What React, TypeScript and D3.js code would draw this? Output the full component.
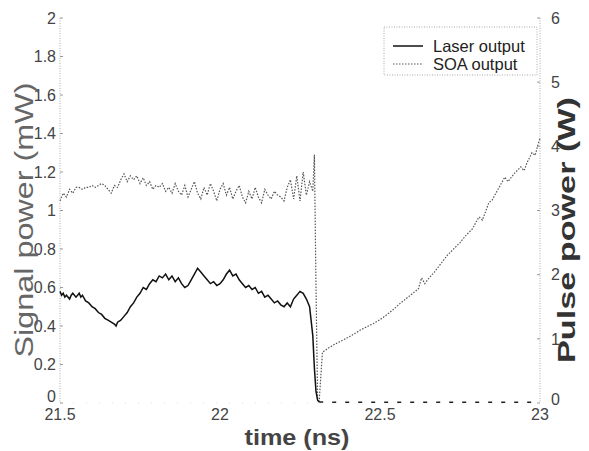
import React from "react";
import * as d3 from "d3";

const xTicks = [21.5, 22, 22.5, 23];
const xTickLabels = ["21.5", "22", "22.5", "23"];
const yLeftTicks = [0, 0.2, 0.4, 0.6, 0.8, 1, 1.2, 1.4, 1.6, 1.8, 2];
const yLeftTickLabels = ["0", "0.2", "0.4", "0.6", "0.8", "1", "1.2", "1.4", "1.6", "1.8", "2"];
const yRightTicks = [0, 1, 2, 3, 4, 5, 6];
const yRightTickLabels = ["0", "1", "2", "3", "4", "5", "6"];

// Laser output (left axis, mW)
const laserTime = [
  21.5, 21.505, 21.51, 21.515, 21.52, 21.53, 21.535, 21.54, 21.55, 21.56, 21.565, 21.57, 21.58, 21.59, 21.6, 21.61,
  21.62, 21.63, 21.64, 21.65, 21.66, 21.67, 21.675, 21.68, 21.69, 21.7, 21.71, 21.72, 21.73, 21.74, 21.75,
  21.76, 21.77, 21.78, 21.79, 21.8, 21.81, 21.82, 21.83, 21.84, 21.85, 21.86, 21.87, 21.88, 21.89, 21.9,
  21.91, 21.92, 21.93, 21.94, 21.95, 21.96, 21.97, 21.98, 21.99, 22.0, 22.01, 22.02, 22.03, 22.04, 22.05,
  22.06, 22.07, 22.08, 22.09, 22.1, 22.11, 22.12, 22.13, 22.14, 22.15, 22.16, 22.17, 22.18, 22.19, 22.2,
  22.21, 22.22, 22.23, 22.24, 22.25, 22.26, 22.27, 22.28, 22.29, 22.295, 22.3, 22.305, 22.31, 22.35, 22.4,
  22.5, 22.6, 22.7, 22.8, 22.9, 23.0,
];
const laserValue = [
  0.58, 0.56, 0.57, 0.55, 0.56, 0.54, 0.56, 0.57, 0.55, 0.57, 0.55, 0.56, 0.53, 0.52, 0.5, 0.49,
  0.47, 0.46, 0.44, 0.43, 0.42, 0.41, 0.4, 0.42, 0.43, 0.45, 0.47, 0.5, 0.52, 0.55, 0.57,
  0.6, 0.59, 0.62, 0.64, 0.63, 0.66, 0.65, 0.67, 0.64, 0.66, 0.63, 0.65, 0.62, 0.6, 0.61,
  0.64, 0.67, 0.7, 0.68, 0.66, 0.64, 0.62, 0.63, 0.61, 0.62, 0.64, 0.67, 0.69, 0.66, 0.67,
  0.64, 0.62, 0.6, 0.61, 0.59, 0.6, 0.57, 0.58, 0.55, 0.56, 0.54, 0.52, 0.53, 0.51, 0.5,
  0.52, 0.5, 0.54, 0.56, 0.58, 0.57, 0.54, 0.5, 0.35, 0.18, 0.06, 0.015, 0.005, 0.004, 0.004,
  0.004, 0.004, 0.004, 0.004, 0.004, 0.004,
];

// SOA output (right axis, W)
const soaTime = [
  21.5, 21.51, 21.52, 21.53, 21.54, 21.55, 21.56, 21.57, 21.58, 21.59, 21.6, 21.61, 21.62, 21.63, 21.64,
  21.65, 21.66, 21.67, 21.68, 21.69, 21.7, 21.71, 21.72, 21.73, 21.74, 21.75, 21.76, 21.77, 21.78, 21.79,
  21.8, 21.81, 21.82, 21.83, 21.84, 21.85, 21.86, 21.87, 21.88, 21.89, 21.9, 21.91, 21.92, 21.93, 21.94,
  21.95, 21.96, 21.97, 21.98, 21.99, 22.0, 22.01, 22.02, 22.03, 22.04, 22.05, 22.06, 22.07, 22.08, 22.09,
  22.1, 22.11, 22.12, 22.13, 22.14, 22.15, 22.16, 22.17, 22.18, 22.19, 22.2, 22.21, 22.22, 22.23, 22.24,
  22.25, 22.26, 22.27, 22.28, 22.29, 22.295, 22.3, 22.305, 22.31, 22.32, 22.34, 22.36, 22.38, 22.4, 22.42,
  22.44, 22.46, 22.48, 22.5, 22.52, 22.54, 22.56, 22.58, 22.6, 22.62, 22.63, 22.64, 22.65, 22.67, 22.69,
  22.71, 22.73, 22.75, 22.77, 22.79, 22.8, 22.81, 22.82, 22.84, 22.85, 22.87, 22.89, 22.9, 22.92, 22.94,
  22.95, 22.96, 22.975, 22.985, 22.995, 23.0,
];
const soaValue = [
  3.15, 3.27, 3.21, 3.33, 3.27, 3.36, 3.36, 3.33, 3.36, 3.36, 3.39, 3.36, 3.39, 3.42, 3.39,
  3.33, 3.27, 3.39, 3.36, 3.48, 3.57, 3.45, 3.54, 3.48, 3.54, 3.42, 3.51, 3.39, 3.45, 3.33,
  3.39, 3.36, 3.42, 3.3, 3.36, 3.27, 3.42, 3.3, 3.24, 3.39, 3.21, 3.33, 3.45, 3.27, 3.18,
  3.36, 3.24, 3.42, 3.3, 3.15, 3.33, 3.42, 3.24, 3.36, 3.18, 3.3, 3.39, 3.21, 3.12, 3.3,
  3.18, 3.36, 3.21, 3.12, 3.33, 3.24, 3.18, 3.3, 3.24, 3.21, 3.15, 3.36, 3.48, 3.18, 3.54,
  3.15, 3.6, 3.24, 3.45, 3.3, 3.87, 1.8, 0.06, 0.03, 0.79, 0.86, 0.92, 0.97, 1.02, 1.08,
  1.14, 1.19, 1.24, 1.3, 1.37, 1.45, 1.54, 1.62, 1.7, 1.78, 1.95, 1.86, 1.93, 2.04, 2.17,
  2.3, 2.4, 2.5, 2.62, 2.72, 2.82, 2.9, 2.85, 3.12, 3.16, 3.34, 3.52, 3.45, 3.58, 3.68,
  3.62, 3.75, 3.9, 3.86, 4.05, 4.12,
];

const W = 589;
const H = 451;
const left = 60;
const right = 540;
const top = 18;
const bottom = 403;

export default function App() {
  const x = d3.scaleLinear().domain([21.5, 23]).range([left, right]);
  const yL = d3.scaleLinear().domain([0, 2]).range([bottom, top]);
  const yR = d3.scaleLinear().domain([0, 6]).range([bottom, top]);

  const laserPts: [number, number][] = laserTime.map((t, i) => [t, laserValue[i]]);
  const laserMain = laserPts.filter((d) => d[0] <= 22.31);
  const laserTail = laserPts.filter((d) => d[0] >= 22.31);
  const soaPts: [number, number][] = soaTime.map((t, i) => [t, soaValue[i]]);

  const laserLine = d3
    .line<[number, number]>()
    .x((d) => x(d[0]))
    .y((d) => yL(d[1]));
  const soaLine = d3
    .line<[number, number]>()
    .x((d) => x(d[0]))
    .y((d) => yR(d[1]));

  const font = "'Liberation Sans', Arial, Helvetica, sans-serif";

  return (
    <svg
      width={W}
      height={H}
      style={{ position: "absolute", left: 0, top: 0, background: "#fff" }}
      fontFamily={font}
    >
      <rect x={0} y={0} width={W} height={H} fill="#fff" />
      {/* axes */}
      <line x1={left} x2={left} y1={top} y2={bottom} stroke="#aaa" strokeWidth={1} strokeDasharray="1,1.5" />
      <line x1={right} x2={right} y1={top} y2={bottom} stroke="#aaa" strokeWidth={1} strokeDasharray="1,1.5" />
      <line x1={left} x2={right} y1={bottom} y2={bottom} stroke="#ddd" strokeWidth={1} strokeDasharray="1,12" />

      {yLeftTicks.map((v, i) => (
        <g key={"yl" + i}>
          <line x1={left} x2={left + 3} y1={yL(v)} y2={yL(v)} stroke="#999" />
          <text x={left - 4} y={yL(v) - (v === 0 ? 7 : 0)} dy="0.36em" textAnchor="end" fontSize={16} fill="#444">
            {yLeftTickLabels[i]}
          </text>
        </g>
      ))}
      {yRightTicks.map((v, i) => (
        <g key={"yr" + i}>
          <line x1={right - 3} x2={right} y1={yR(v)} y2={yR(v)} stroke="#999" />
          <text x={right + 11} y={yR(v) - (v === 0 ? 4 : 0)} dy="0.36em" textAnchor="start" fontSize={16} fill="#444">
            {yRightTickLabels[i]}
          </text>
        </g>
      ))}
      {xTicks.map((v, i) => (
        <text key={"xt" + i} x={x(v)} y={420} textAnchor="middle" fontSize={16} fill="#444">
          {xTickLabels[i]}
        </text>
      ))}

      {/* data */}
      <path d={soaLine(soaPts) || ""} fill="none" stroke="#555" strokeWidth={1.2} strokeDasharray="1.5,1.5" />
      <path d={laserLine(laserMain) || ""} fill="none" stroke="#111" strokeWidth={1.5} />
      <path d={laserLine(laserTail) || ""} fill="none" stroke="#222" strokeWidth={1.5} strokeDasharray="4,9" />

      {/* axis titles */}
      <text
        transform={`translate(33,220) rotate(-90)`}
        textAnchor="middle"
        fontSize={25}
        fill="#666"
        textLength={275}
        lengthAdjust="spacingAndGlyphs"
      >
        Signal power (mW)
      </text>
      <text
        transform={`translate(575,230) rotate(-90)`}
        textAnchor="middle"
        fontSize={23}
        fontWeight="bold"
        fill="#333"
        textLength={266}
        lengthAdjust="spacingAndGlyphs"
      >
        Pulse power (W)
      </text>
      <text
        x={297}
        y={445}
        textAnchor="middle"
        fontSize={22}
        fontWeight="bold"
        fill="#444"
        textLength={105}
        lengthAdjust="spacingAndGlyphs"
      >
        time (ns)
      </text>

      {/* legend */}
      <rect x={384} y={27} width={153} height={48} fill="#fff" stroke="#aaa" strokeWidth={1} strokeDasharray="1,1.5" />
      <line x1={393} x2={423} y1={46} y2={46} stroke="#111" strokeWidth={1.5} />
      <text x={433} y={46} dy="0.36em" fontSize={16.5} fill="#222">
        Laser output
      </text>
      <line x1={393} x2={423} y1={64} y2={64} stroke="#555" strokeWidth={1.2} strokeDasharray="1.5,1.5" />
      <text x={433} y={64} dy="0.36em" fontSize={16.5} fill="#222">
        SOA output
      </text>
    </svg>
  );
}
